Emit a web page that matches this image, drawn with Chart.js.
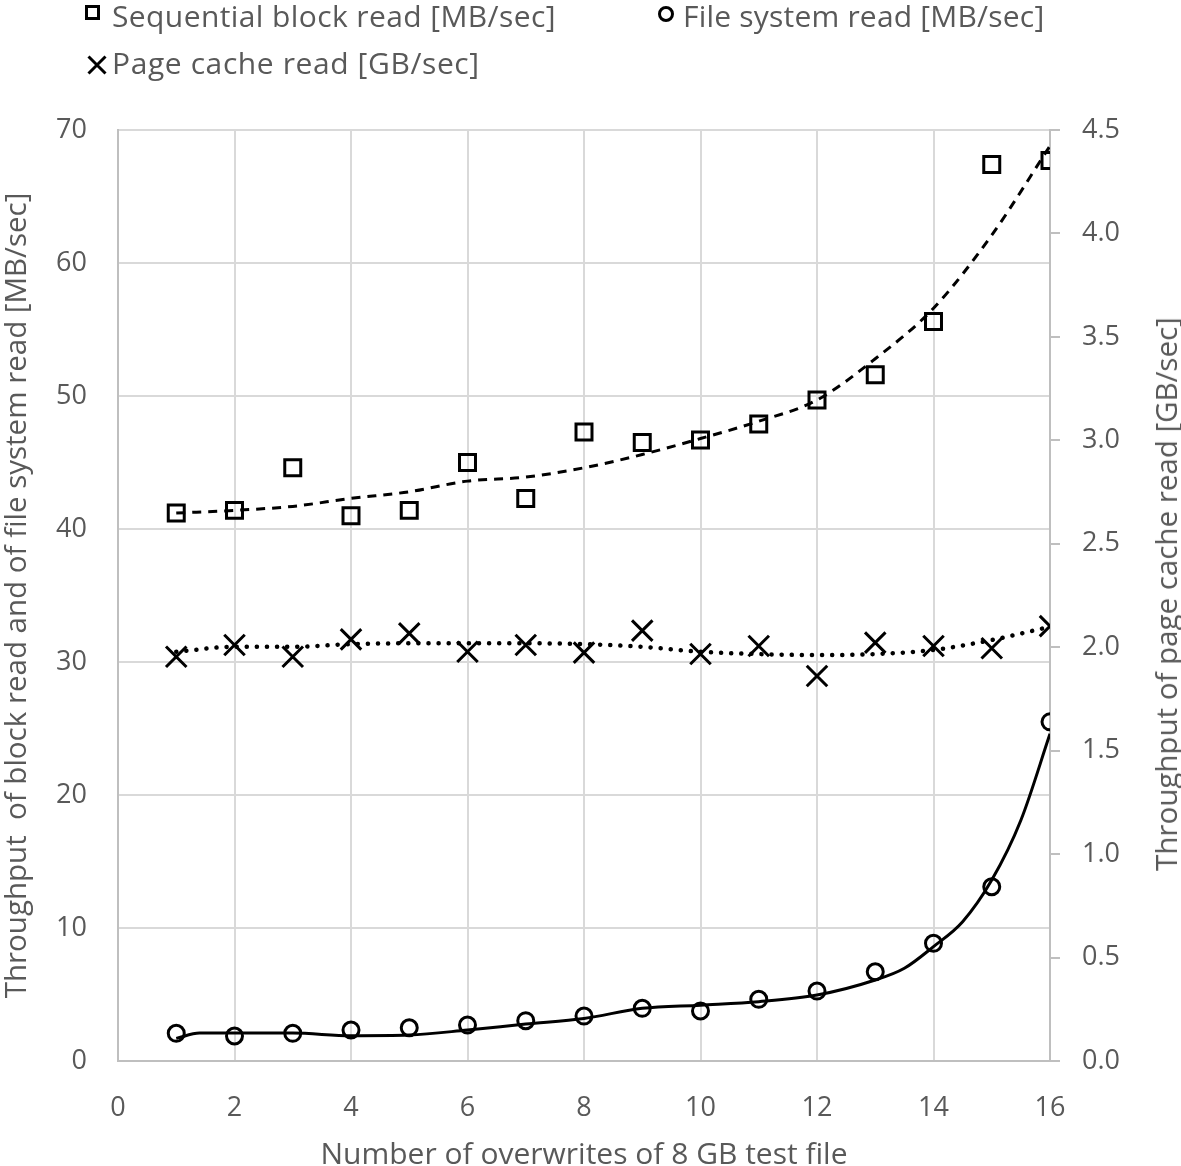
<!DOCTYPE html>
<html>
<head>
<meta charset="utf-8">
<script src="https://cdn.jsdelivr.net/npm/chart.js@4.4.1/dist/chart.umd.min.js"></script>
<style>
  html, body { margin:0; padding:0; background:#fff; overflow:hidden; }
  #wrap { position:relative; width:1181px; height:1173px; }
  canvas { position:absolute; left:0; top:0; }
  .lt { position:absolute; font-family: "Open Sans", Lato, sans-serif; font-size:30px; line-height:30px; letter-spacing:0.4px; color:#595959; white-space:nowrap; }
  .mk { position:absolute; }
</style>
</head>
<body>
<div id="wrap">
  <canvas id="c" width="1181" height="1173"></canvas>
  <div class="mk" style="left:85px;top:5px;width:15px;height:15px;box-sizing:border-box;border:3px solid #000;"></div>
  <div class="lt" id="leg1" style="left:112px;top:1px;">Sequential block read [MB/sec]</div>
  <div class="mk" style="left:658px;top:6px;width:16px;height:16px;box-sizing:border-box;border:3px solid #000;border-radius:50%;"></div>
  <div class="lt" id="leg2" style="left:683px;top:1px;letter-spacing:0.2px;">File system read [MB/sec]</div>
  <svg class="mk" style="left:87px;top:55px;" width="20" height="20" viewBox="0 0 20 20"><path d="M1.5 1.5 L18.5 18.5 M18.5 1.5 L1.5 18.5" stroke="#000" stroke-width="3" fill="none"/></svg>
  <div class="lt" id="leg3" style="left:112px;top:48px;letter-spacing:0.6px;">Page cache read [GB/sec]</div>
  <div class="lt" id="rtitle" style="left:1166px;top:594px;font-size:29.5px;letter-spacing:0;transform:translate(-50%,-50%) rotate(-90deg);">Throughput  of page cache read [GB/sec]</div>
</div>
<script>
// ---- data ----
const overwrites = [1, 2, 3, 4, 5, 6, 7, 8, 9, 10, 11, 12, 13, 14, 15, 16];
const blockRead = [41.2, 41.4, 44.6, 41.0, 41.4, 45.0, 42.3, 47.3, 46.5, 46.7, 47.9, 49.7, 51.6, 55.6, 67.4, 67.7];
const fileSystemRead = [2.08, 1.88, 2.08, 2.33, 2.5, 2.7, 3.03, 3.38, 3.96, 3.76, 4.64, 5.26, 6.71, 8.85, 13.1, 25.5];
const pageCacheRead = [1.954, 2.011, 1.954, 2.038, 2.067, 1.978, 2.011, 1.974, 2.080, 1.967, 2.006, 1.861, 2.022, 2.006, 1.995, 2.102];

// trend lines
const blockTrend = [41.2, 41.4, 41.7, 42.3, 42.8, 43.6, 43.9, 44.6, 45.6, 46.8, 48.1, 49.7, 52.8, 56.6, 62.1, 68.8];
const pageTrend = [1.978, 2.002, 2.002, 2.015, 2.019, 2.019, 2.019, 2.015, 2.002, 1.978, 1.967, 1.962, 1.967, 1.987, 2.035, 2.099];
const fsTrendX = [1, 1.4, 2, 3, 4, 5, 6, 7, 8, 9, 10, 11, 12, 13, 13.5, 14, 14.5, 15, 15.5, 16];
const fsTrend = [1.7, 2.1, 2.1, 2.1, 1.9, 1.95, 2.33, 2.78, 3.2, 3.96, 4.2, 4.46, 4.96, 6.09, 6.97, 8.6, 10.47, 13.6, 18.1, 24.6];

const leftTicks = [0, 10, 20, 30, 40, 50, 60, 70];
const rightTicks = [0, 0.5, 1, 1.5, 2, 2.5, 3, 3.5, 4, 4.5];
const xTicks = [0, 2, 4, 6, 8, 10, 12, 14, 16];

const xTitle = 'Number of overwrites of 8 GB test file';
const yTitle = 'Throughput  of block read and of file system read [MB/sec]';

const pts = (xs, ys) => xs.map((x, i) => ({ x: x, y: ys[i] }));

const FONT = '"Open Sans", Lato, sans-serif';
const TXT = '#595959';
const GRID = '#d9d9d9';
const AXIS = '#bfbfbf';

new Chart(document.getElementById('c'), {
  type: 'scatter',
  data: {
    datasets: [
      { label: 'blockTrend', data: pts(overwrites, blockTrend), showLine: true, yAxisID: 'y',
        borderColor: '#000', borderWidth: 3, borderDash: [9, 7], pointRadius: 0, cubicInterpolationMode: 'monotone', fill: false },
      { label: 'pageTrend', data: pts(overwrites, pageTrend), showLine: true, yAxisID: 'y2',
        borderColor: '#000', borderWidth: 4.5, borderDash: [0.1, 10], borderCapStyle: 'round', pointRadius: 0, cubicInterpolationMode: 'monotone', fill: false },
      { label: 'fsTrend', data: pts(fsTrendX, fsTrend), showLine: true, yAxisID: 'y',
        borderColor: '#000', borderWidth: 3, pointRadius: 0, cubicInterpolationMode: 'monotone', fill: false },
      { label: 'Sequential block read [MB/sec]', data: pts(overwrites, blockRead), yAxisID: 'y',
        pointStyle: 'rect', pointRadius: 11.3, pointBorderWidth: 3, pointBorderColor: '#000', pointBackgroundColor: 'rgba(0,0,0,0)' },
      { label: 'File system read [MB/sec]', data: pts(overwrites, fileSystemRead), yAxisID: 'y',
        pointStyle: 'circle', pointRadius: 8, pointBorderWidth: 3, pointBorderColor: '#000', pointBackgroundColor: 'rgba(0,0,0,0)' },
      { label: 'Page cache read [GB/sec]', data: pts(overwrites, pageCacheRead), yAxisID: 'y2',
        pointStyle: 'crossRot', pointRadius: 14.5, pointBorderWidth: 3, pointBorderColor: '#000', pointBackgroundColor: 'rgba(0,0,0,0)' }
    ]
  },
  options: {
    responsive: false,
    animation: false,
    devicePixelRatio: 1,
    layout: { padding: { top: 130, left: 0, right: 0, bottom: 0 } },
    plugins: { legend: { display: false }, tooltip: { enabled: false } },
    scales: {
      x: {
        type: 'linear', min: 0, max: 16,
        afterBuildTicks: s => { s.ticks = xTicks.map(v => ({ value: v })); },
        afterFit: s => { s.height = 112; },
        grid: { color: GRID, lineWidth: 2, drawTicks: false },
        border: { color: AXIS, width: 2 },
        ticks: { color: TXT, font: { family: FONT, size: 27 }, padding: 31, maxRotation: 0 },
        title: { display: true, text: xTitle, color: TXT, font: { family: FONT, size: 30 }, padding: 0 }
      },
      y: {
        type: 'linear', position: 'left', min: 0, max: 70,
        afterBuildTicks: s => { s.ticks = leftTicks.map(v => ({ value: v })); },
        afterFit: s => { s.width = 118; },
        grid: { color: GRID, lineWidth: 2, drawTicks: false },
        border: { color: AXIS, width: 2 },
        ticks: { color: TXT, font: { family: FONT, size: 27 }, padding: 31 },
        title: { display: true, text: yTitle, color: TXT, font: { family: FONT, size: 29.5 }, padding: { top: 0, bottom: 0 } }
      },
      y2: {
        type: 'linear', position: 'right', min: 0, max: 4.5,
        afterBuildTicks: s => { s.ticks = rightTicks.map(v => ({ value: v })); },
        afterFit: s => { s.width = 131; },
        grid: { drawOnChartArea: false, color: AXIS, lineWidth: 2, drawTicks: true, tickLength: 10 },
        border: { color: AXIS, width: 2 },
        ticks: { color: TXT, font: { family: FONT, size: 27 }, padding: 22, callback: v => Number(v).toFixed(1) }
      }
    }
  }
});
</script>
</body>
</html>
